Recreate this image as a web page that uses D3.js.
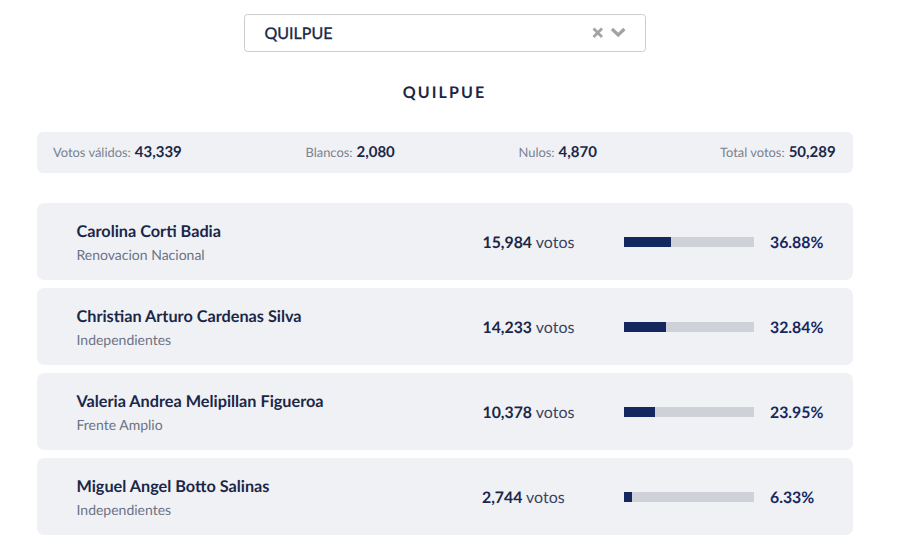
<!DOCTYPE html>
<html>
<head>
<meta charset="utf-8">
<script src="https://cdn.jsdelivr.net/npm/d3@7"></script>
<style>
  html, body { margin: 0; padding: 0; background: #fff; }
  svg { display: block; font-family: Lato, sans-serif; text-rendering: geometricPrecision; }
</style>
</head>
<body>
<div id="chart"></div>
<script>
const comuna = "QUILPUE";
const summaryLabels = ["Votos válidos:", "Blancos:", "Nulos:", "Total votos:"];
const summaryValues = [43339, 2080, 4870, 50289];
const candidates = [
  "Carolina Corti Badia",
  "Christian Arturo Cardenas Silva",
  "Valeria Andrea Melipillan Figueroa",
  "Miguel Angel Botto Salinas"
];
const parties = ["Renovacion Nacional", "Independientes", "Frente Amplio", "Independientes"];
const votes = [15984, 14233, 10378, 2744];
const percents = [36.88, 32.84, 23.95, 6.33];

const width = 901;
const height = 551;
const navy = "#14285f";
const ink = "#1a2747";
const muted = "#6b7385";
const panel = "#f0f1f5";
const fmt = d3.format(",");

const svg = d3.select("#chart").append("svg").attr("width", width).attr("height", height);

// selector
svg.append("rect")
  .attr("x", 244.5).attr("y", 14.5).attr("width", 401).attr("height", 37).attr("rx", 3)
  .attr("fill", "#fff").attr("stroke", "#cccccc");
svg.append("text").attr("x", 264.5).attr("y", 38.5)
  .attr("font-size", 16).attr("fill", ink)
  .attr("stroke", ink).attr("stroke-width", 0.35).text(comuna);
svg.append("path").attr("d", "M593.5 28.5L602 37M602 28.5L593.5 37")
  .attr("stroke", "#a3a3a3").attr("stroke-width", 2.8).attr("fill", "none");
svg.append("path").attr("d", "M612 29L618.2 35L624.4 29")
  .attr("stroke", "#a3a3a3").attr("stroke-width", 3.2).attr("fill", "none");

// title
svg.append("text").attr("x", 444.5).attr("y", 97.5).attr("text-anchor", "middle")
  .attr("font-size", 16).attr("font-weight", 700).attr("letter-spacing", 2.1)
  .attr("fill", ink).text(comuna);

// summary strip
svg.append("rect").attr("x", 37).attr("y", 132).attr("width", 816).attr("height", 41).attr("rx", 6)
  .attr("fill", panel);

const summaryX = [53, 305.5, 518.5, 720];
const summary = svg.append("g").selectAll("text").data(summaryLabels).join("text")
  .attr("x", (d, i) => summaryX[i]).attr("y", 157);
summary.append("tspan").attr("font-size", 12.9).attr("fill", "#7b8190").text(d => d);
summary.append("tspan").attr("dx", 4).attr("font-size", 15).attr("font-weight", 700).attr("fill", ink)
  .text((d, i) => fmt(summaryValues[i]));

// candidates
const rowY = d3.scaleLinear().domain([0, 1]).range([203, 288]);
const barX = d3.scaleLinear().domain([0, 100]).range([624, 754]);

const rows = svg.append("g").selectAll("g").data(candidates).join("g")
  .attr("transform", (d, i) => `translate(0,${rowY(i)})`);

rows.append("rect").attr("x", 37).attr("y", 0).attr("width", 816).attr("height", 77).attr("rx", 7)
  .attr("fill", panel);

rows.append("text").attr("x", 76.5).attr("y", 33.5)
  .attr("font-size", 16.25).attr("font-weight", 700).attr("fill", ink).text(d => d);

rows.append("text").attr("x", 76.5).attr("y", 57)
  .attr("font-size", 14).attr("fill", muted).text((d, i) => parties[i]);

const voteText = rows.append("text").attr("x", (d, i) => i === 3 ? 482 : 482.5).attr("y", 44.5);
voteText.append("tspan").attr("font-size", 15.8).attr("font-weight", 700).attr("fill", ink)
  .text((d, i) => fmt(votes[i]));
voteText.append("tspan").attr("font-size", 16).attr("fill", "#3a4460").text(" votos");

rows.append("rect").attr("x", barX(0)).attr("y", 34).attr("height", 10)
  .attr("width", barX(100) - barX(0)).attr("fill", "#ced1d7");
// the original bars land on whole pixels
rows.append("rect").attr("x", barX(0)).attr("y", 34).attr("height", 10)
  .attr("width", (d, i) => Math.floor(barX(percents[i]) - barX(0))).attr("fill", navy);

rows.append("text").attr("x", 770).attr("y", 44.5)
  .attr("font-size", 15.8).attr("font-weight", 700).attr("fill", navy)
  .text((d, i) => percents[i].toFixed(2) + "%");
</script>
</body>
</html>
